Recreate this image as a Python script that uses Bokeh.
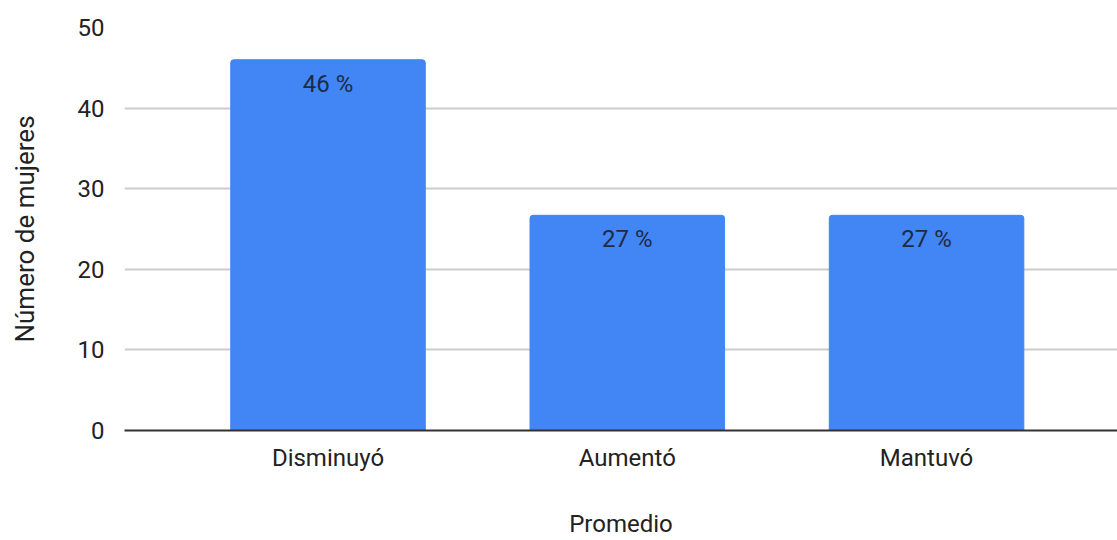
from bokeh.plotting import figure
from bokeh.models import ColumnDataSource, Range1d, FixedTicker
from bokeh.core.properties import value
from bokeh.embed import file_html
from bokeh.resources import INLINE

categories = ["Disminuyó", "Aumentó", "Mantuvó"]
counts = [46, 26.7, 26.7]
pct_labels = ["46 %", "27 %", "27 %"]
y_ticks = [0, 10, 20, 30, 40, 50]

FONT = "Roboto"
positions = list(range(len(categories)))
src = ColumnDataSource(dict(x=positions, cat=categories, val=counts, lab=pct_labels))

p = figure(
    width=1117, height=540,
    x_range=Range1d(-0.68, 2.638),
    y_range=Range1d(0, 50),
    output_backend="svg", toolbar_location=None,
    min_border_left=124, min_border_right=0, min_border_top=27, min_border_bottom=100,
)
p.outline_line_color = None
p.background_fill_color = "white"
p.border_fill_color = "white"

p.vbar(x="x", top="val", width=0.65, source=src, color="#4285F4",
       border_radius=(3, 3, 0, 0))

p.text(x="x", y="val", text="lab", source=src, text_align="center",
       text_baseline="top", y_offset=10, text_font=value(FONT),
       text_font_size="24px", text_color="#1f2a44")

# y axis
p.yaxis.ticker = FixedTicker(ticks=y_ticks)
p.yaxis.axis_line_color = None
p.yaxis.major_tick_line_color = None
p.yaxis.minor_tick_line_color = None
p.yaxis.major_label_standoff = 14
p.yaxis.major_label_text_font = FONT
p.yaxis.major_label_text_font_size = "24px"
p.yaxis.major_label_text_color = "#222222"
p.yaxis.axis_label = "Número de mujeres"
p.yaxis.axis_label_text_font = FONT
p.yaxis.axis_label_text_font_size = "26px"
p.yaxis.axis_label_text_font_style = "normal"
p.yaxis.axis_label_text_color = "#222222"
p.yaxis.axis_label_standoff = 35

# x axis
p.xaxis.ticker = FixedTicker(ticks=positions)
p.xaxis.major_label_overrides = {i: c for i, c in zip(positions, categories)}
p.xaxis.axis_line_color = "#333333"
p.xaxis.axis_line_width = 2
p.xaxis.major_tick_line_color = None
p.xaxis.minor_tick_line_color = None
p.xaxis.major_label_standoff = 7
p.xaxis.major_label_text_font = FONT
p.xaxis.major_label_text_font_size = "24px"
p.xaxis.major_label_text_color = "#222222"
p.xaxis.axis_label = "Promedio"
p.xaxis.axis_label_text_font = FONT
p.xaxis.axis_label_text_font_size = "24px"
p.xaxis.axis_label_text_font_style = "normal"
p.xaxis.axis_label_text_color = "#222222"
p.xaxis.axis_label_standoff = 35

p.xgrid.grid_line_color = None
p.ygrid.grid_line_color = "#cccccc"
p.ygrid.grid_line_width = 2

open("out.html", "w").write(file_html(p, INLINE))
